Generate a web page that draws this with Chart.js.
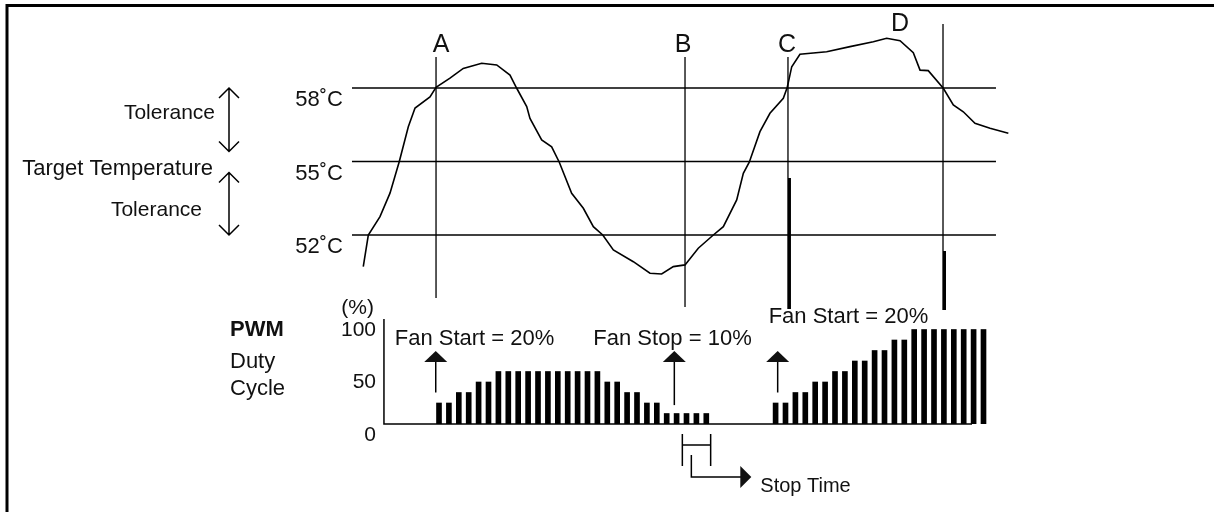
<!DOCTYPE html>
<html>
<head>
<meta charset="utf-8">
<script src="https://cdn.jsdelivr.net/npm/chart.js@4.4.1/dist/chart.umd.min.js"></script>
<style>
  html, body { margin: 0; padding: 0; background: #fff; }
  #wrap { width: 1214px; height: 512px; }
</style>
</head>
<body>
<div id="wrap"><canvas id="fanChart" width="1214" height="512"></canvas></div>
<script>
// time axis: one unit = one PWM period (bar slot)
const tempTimes = [-7.65, -7.14, -5.96, -4.95, -4.01, -3.10, -2.42, -0.91, -0.30, 1.11, 2.45, 4.31, 5.83, 7.17,
  7.85, 8.86, 9.19, 10.37, 11.38, 12.15, 13.40, 14.58, 15.59, 16.54, 17.61, 19.63, 21.31, 22.49, 23.67, 24.85,
  26.19, 27.71, 28.72, 30.07, 30.74, 31.34, 32.42, 33.43, 34.78, 35.18, 35.63, 36.46, 39.16, 41.52, 43.87,
  45.22, 46.57, 47.91, 48.59, 49.42, 50.94, 51.95, 52.96, 54.14, 55.66, 57.51];
const tempValues = [50.71, 52.00, 52.75, 53.71, 55.00, 56.42, 57.18, 57.64, 58.03, 58.40, 58.80, 59.01, 58.94, 58.53,
  57.99, 57.24, 56.76, 55.88, 55.60, 54.97, 53.70, 53.09, 52.34, 52.00, 51.39, 50.91, 50.44, 50.41, 50.71, 50.78,
  51.46, 52.00, 52.34, 53.43, 54.52, 54.97, 56.22, 56.97, 57.58, 58.03, 58.87, 59.38, 59.48, 59.69, 59.89,
  60.03, 59.93, 59.44, 58.73, 58.71, 57.99, 57.31, 57.03, 56.56, 56.36, 56.15];

const limitTemps = [52, 55, 58];
const limitLabels = ['52˚C', '55˚C', '58˚C'];
const refLineSpan = [-8.79, 56.26];

const eventNames = ['A', 'B', 'C', 'D'];
const eventTimes = [-0.30, 24.85, 35.25, 50.91];
const eventTops = [59.27, 59.27, 59.27, 60.61];
const eventBottoms = [49.43, 49.06, 48.98, 48.94];
const heavyFrom = [null, null, 54.33, 51.35];

const pwmLeft = [20, 20, 30, 30, 40, 40, 50, 50, 50, 50, 50, 50, 50, 50, 50, 50, 50, 40, 40, 30, 30, 20, 20, 10, 10, 10, 10, 10];
const pwmRight = [20, 20, 30, 30, 40, 40, 50, 50, 60, 60, 70, 70, 80, 80, 90, 90, 90, 90, 90, 90, 90, 90];
const rightStart = 34;
const pwmTicks = [0, 50, 100];
const pwmAxisTime = -5.56;
const pwmBaseEnd = 53.84;

const fanNotes = ['Fan Start = 20%', 'Fan Stop = 10%', 'Fan Start = 20%'];
const fanNoteTimes = [-0.33, 23.77, 34.21];
const fanArrowFrom = [30, 18, 30];
const fanArrowTip = 69.5;
const stopTimeSpan = [24.58, 27.44];

const FONT = '"Liberation Sans", Arial, sans-serif';

const bars = [];
pwmLeft.forEach((v, i) => bars.push({ x: i, y: v }));
pwmRight.forEach((v, i) => bars.push({ x: rightStart + i, y: v }));

const lineSet = (data, axis, width) => ({
    type: 'line',
    data: data,
    yAxisID: axis,
    borderColor: '#000',
    borderWidth: width,
    pointRadius: 0,
    tension: 0,
    fill: false,
    clip: false
});

const datasets = [];
datasets.push(lineSet(tempTimes.map((t, i) => ({ x: t, y: tempValues[i] })), 'temp', 1.6));
limitTemps.forEach(t => {
    datasets.push(lineSet([{ x: refLineSpan[0], y: t }, { x: refLineSpan[1], y: t }], 'temp', 1.5));
});
eventTimes.forEach((t, i) => {
    datasets.push(lineSet([{ x: t, y: eventTops[i] }, { x: t, y: eventBottoms[i] }], 'temp', 1.3));
    if (heavyFrom[i] !== null) {
        datasets.push(lineSet([{ x: t + 0.15, y: heavyFrom[i] }, { x: t + 0.15, y: eventBottoms[i] }], 'temp', 3));
    }
});
datasets.push(lineSet([{ x: pwmAxisTime, y: 100 }, { x: pwmAxisTime, y: 0 }, { x: pwmBaseEnd, y: 0 }], 'pwm', 1.5));
datasets.push({
    type: 'bar',
    data: bars,
    yAxisID: 'pwm',
    backgroundColor: '#000',
    borderWidth: 0,
    barThickness: 5
});

// text, arrows and frame drawn on top, placed through the scales
const annotate = {
    id: 'annotate',
    afterDatasetsDraw(chart) {
        const { ctx } = chart;
        const x = chart.scales.x, temp = chart.scales.temp, pwm = chart.scales.pwm;
        ctx.save();
        ctx.fillStyle = '#111';
        ctx.strokeStyle = '#000';

        // frame (only top and left edges visible)
        ctx.lineWidth = 3;
        ctx.beginPath();
        ctx.moveTo(7, 512);
        ctx.lineTo(7, 5.5);
        ctx.lineTo(1214, 5.5);
        ctx.stroke();

        ctx.textBaseline = 'middle';

        // temperature labels
        ctx.textAlign = 'right';
        ctx.font = '22px ' + FONT;
        limitTemps.forEach((t, i) => ctx.fillText(limitLabels[i], 343, temp.getPixelForValue(t) + 12));
        const y58 = temp.getPixelForValue(58), y55 = temp.getPixelForValue(55), y52 = temp.getPixelForValue(52);
        ctx.fillText('Target Temperature', 213, y55 + 7);
        ctx.font = '21px ' + FONT;
        ctx.fillText('Tolerance', 215, (y58 + y55) / 2 - 12);
        ctx.fillText('Tolerance', 202, (y55 + y52) / 2 + 12);

        // double arrows
        const dbl = (top, bot) => {
            const ax = 229;
            ctx.lineWidth = 1.5;
            ctx.beginPath();
            ctx.moveTo(ax, top); ctx.lineTo(ax, bot);
            ctx.moveTo(ax - 10, top + 10); ctx.lineTo(ax, top); ctx.lineTo(ax + 10, top + 10);
            ctx.moveTo(ax - 10, bot - 10); ctx.lineTo(ax, bot); ctx.lineTo(ax + 10, bot - 10);
            ctx.stroke();
        };
        dbl(y58, y55 - 10);
        dbl(y55 + 11, y52);

        // event letters
        ctx.font = '25px ' + FONT;
        ctx.textAlign = 'center';
        const letterDx = [5, -2, -1, -43];
        eventNames.forEach((n, i) => {
            const ly = i === 3 ? temp.getPixelForValue(eventTops[i]) : temp.getPixelForValue(eventTops[i]) - 12;
            ctx.fillText(n, x.getPixelForValue(eventTimes[i]) + letterDx[i], ly);
        });

        // PWM axis labels
        ctx.textAlign = 'left';
        ctx.font = 'bold 22px ' + FONT;
        ctx.fillText('PWM', 230, 330);
        ctx.font = '22px ' + FONT;
        ctx.fillText('Duty', 230, 362);
        ctx.fillText('Cycle', 230, 389);
        ctx.textAlign = 'right';
        ctx.font = '21px ' + FONT;
        pwmTicks.forEach(v => ctx.fillText(String(v), 376, pwm.getPixelForValue(v) + 11));
        ctx.fillText('(%)', 374, pwm.getPixelForValue(100) - 11);

        // fan start/stop arrows and notes
        const noteDx = [-41, -81, -9];
        const noteY = [339, 339, 317];
        fanNoteTimes.forEach((t, i) => {
            const px = x.getPixelForValue(t);
            const tip = pwm.getPixelForValue(fanArrowTip);
            ctx.lineWidth = 1.5;
            ctx.beginPath();
            ctx.moveTo(px, pwm.getPixelForValue(fanArrowFrom[i]));
            ctx.lineTo(px, tip + 8);
            ctx.stroke();
            ctx.beginPath();
            ctx.moveTo(px, tip);
            ctx.lineTo(px + 11.5, tip + 11);
            ctx.lineTo(px - 11.5, tip + 11);
            ctx.closePath();
            ctx.fill();
            ctx.textAlign = 'left';
            ctx.font = '22px ' + FONT;
            ctx.fillText(fanNotes[i], px + noteDx[i], noteY[i]);
        });

        // stop time bracket
        const sx0 = x.getPixelForValue(stopTimeSpan[0]);
        const sx1 = x.getPixelForValue(stopTimeSpan[1]);
        const b0 = pwm.getPixelForValue(0);
        ctx.lineWidth = 1.5;
        ctx.beginPath();
        ctx.moveTo(sx0, b0 + 10); ctx.lineTo(sx0, b0 + 42);
        ctx.moveTo(sx1, b0 + 10); ctx.lineTo(sx1, b0 + 42);
        ctx.moveTo(sx0, b0 + 21); ctx.lineTo(sx1, b0 + 21);
        const cx = sx0 + 9;
        ctx.moveTo(cx, b0 + 31); ctx.lineTo(cx, b0 + 53); ctx.lineTo(sx0 + 59, b0 + 53);
        ctx.stroke();
        ctx.beginPath();
        ctx.moveTo(sx0 + 58, b0 + 42);
        ctx.lineTo(sx0 + 69, b0 + 53);
        ctx.lineTo(sx0 + 58, b0 + 64);
        ctx.closePath();
        ctx.fill();
        ctx.font = '20px ' + FONT;
        ctx.textAlign = 'left';
        ctx.fillText('Stop Time', sx0 + 78, b0 + 62);

        ctx.restore();
    }
};

new Chart(document.getElementById('fanChart'), {
    type: 'line',
    data: { datasets: datasets },
    options: {
        responsive: false,
        animation: false,
        events: [],
        layout: { padding: { left: 340, right: 194, top: 10, bottom: 88 } },
        plugins: { legend: { display: false }, tooltip: { enabled: false }, title: { display: false } },
        scales: {
            x: { type: 'linear', min: -10, max: 58.687, offset: false, display: false },
            temp: { type: 'linear', position: 'left', min: 44.286, max: 61.184, display: false },
            pwm: { type: 'linear', position: 'right', min: 0, max: 394.29, display: false }
        }
    },
    plugins: [annotate]
});
</script>
</body>
</html>
